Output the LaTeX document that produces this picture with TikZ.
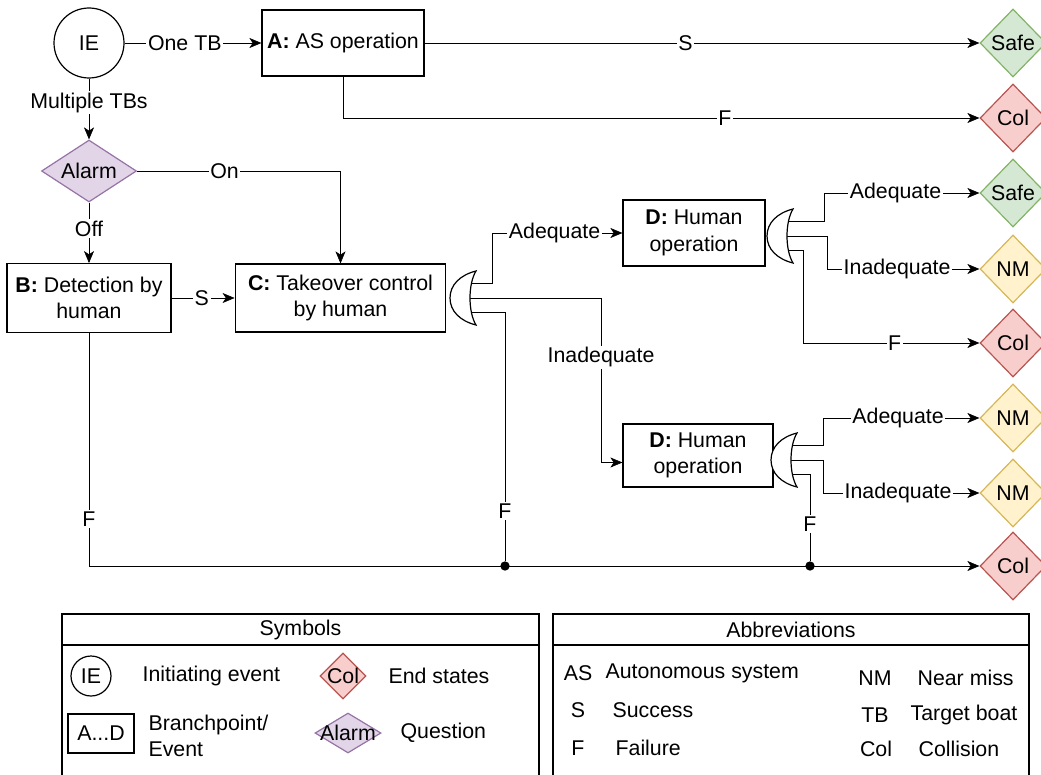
\documentclass[tikz,border=0pt]{standalone}
\usepackage{fontspec}
\setmainfont{Liberation Sans}
\usetikzlibrary{shapes.geometric,arrows.meta,calc,backgrounds}

\definecolor{safeFill}{HTML}{D5E8D4}\definecolor{safeLine}{HTML}{82B366}
\definecolor{colFill}{HTML}{F8CECC}\definecolor{colLine}{HTML}{B85450}
\definecolor{nmFill}{HTML}{FFF2CC}\definecolor{nmLine}{HTML}{D6B656}
\definecolor{askFill}{HTML}{E1D5E7}\definecolor{askLine}{HTML}{9673A6}

\tikzset{
  box/.style={draw, rectangle, align=center, inner sep=0pt},
  endst/.style={diamond, draw, aspect=1, inner sep=0pt, minimum width=49.5pt, minimum height=51pt},
  safe/.style={endst, fill=safeFill, draw=safeLine},
  colst/.style={endst, fill=colFill, draw=colLine},
  nmst/.style={endst, fill=nmFill, draw=nmLine},
  ask/.style={diamond, draw=askLine, fill=askFill, aspect=1.5, inner sep=0pt},
  lbl/.style={fill=white, inner sep=1.2pt},
  arr/.style={-{Stealth[length=9pt,width=7.5pt,inset=2.5pt]}},
  junction/.style={circle, fill, inner sep=0pt, minimum size=7pt},
  txt/.style={inner sep=0pt, anchor=west, align=left},
  ctxt/.style={inner sep=0pt},
  orgate/.pic={
    \coordinate (-o1) at (-10,-15);
    \coordinate (-o2) at (-10,0);
    \coordinate (-o3) at (-10,14);
    \path[draw, fill=white] (0,-27) .. controls (-16,-23) and (-26,-13) .. (-26,0)
      .. controls (-26,13) and (-16,23) .. (0,27)
      .. controls (-8,14) and (-8,-14) .. (0,-27) -- cycle;
  }
}

\begin{document}
\begin{tikzpicture}[x=0.75pt, y=-0.75pt, line width=0.9pt,
  font=\fontsize{16}{20}\selectfont]
\useasboundingbox (0,0) rectangle (1041,774);
\clip (0,0) rectangle (1041,774);

% events and branch points
\node[draw, circle, minimum size=52.5pt, inner sep=0pt] (ie) at (89,43) {IE};
\node[box, minimum width=121.5pt, minimum height=49.5pt] (A) at (343,43) {\textbf{A:} AS operation};
\node[ask, minimum width=71.25pt, minimum height=46.5pt] (alarm) at (89,171) {Alarm};
\node[box, minimum width=123pt, minimum height=51.5pt] (B) at (89,298) {\textbf{B:} Detection by\\human};
\node[box, minimum width=158pt, minimum height=51pt] (C) at (340.5,298) {\textbf{C:} Takeover control\\by human};
\node[box, minimum width=106.5pt, minimum height=49.5pt] (D1) at (694,233) {\textbf{D:} Human\\operation};
\node[box, minimum width=112.5pt, minimum height=47.25pt] (D2) at (698,455.5) {\textbf{D:} Human\\operation};

% OR gates
\pic (g1) at (476,298) {orgate};
\pic (g2) at (793,236) {orgate};
\pic (g3) at (797,460) {orgate};

% end states
\node[safe] (safe1) at (1013,43) {Safe};
\node[colst] (col1) at (1013,118) {Col};
\node[safe] (safe2) at (1013,193) {Safe};
\node[nmst] (nm1) at (1013,269) {NM};
\node[colst] (col2) at (1013,343) {Col};
\node[nmst] (nm2) at (1013,418) {NM};
\node[nmst] (nm3) at (1013,493) {NM};
\node[colst] (col3) at (1013,566) {Col};

% junctions on the failure line
\node[junction] (dot1) at (505,566) {};
\node[junction] (dot2) at (810,566) {};

% connectors
\begin{scope}[on background layer]
\draw[arr] (ie) -- node[lbl, pos=.44] {One TB} (A);
\draw[arr] (A) -- node[lbl, pos=.47] {S} (safe1);
\draw[arr] (A.south) |- node[lbl, pos=.8] {F} (col1);
\draw[arr] (ie) -- node[lbl, pos=.4] {Multiple TBs} (alarm);
\draw[arr] (alarm) -| node[lbl, pos=.215] {On} (C);
\draw[arr] (alarm) -- node[lbl, pos=.43] {Off} (B);
\draw[arr] (B) -- node[lbl, pos=.48] {S} (C);
\draw[arr] (g1-o1) -- ++(26,0) |- node[lbl, pos=.74] {Adequate} (D1);
\draw[arr] (g1-o2) -- ++(135,0) |- node[lbl, pos=.18] {Inadequate} ([yshift=-5.25pt]D2.west);
\draw (g1-o3) -| node[lbl, pos=.9] {F} (dot1);
\draw[arr] (B) |- node[lbl, pos=.4] {F} (col3);
\draw[arr] (g2-o1) -- ++(41,0) |- node[lbl, pos=.73] {Adequate} (safe2);
\draw[arr] (g2-o2) -- ++(44,0) |- node[lbl, pos=.73] {Inadequate} (nm1);
\draw[arr] (g2-o3) -- ++(20,0) |- node[lbl, pos=.76] {F} (col2);
\draw[arr] (g3-o1) -- ++(36,0) |- node[lbl, pos=.74] {Adequate} (nm2);
\draw[arr] (g3-o2) -- ++(36,0) |- node[lbl, pos=.74] {Inadequate} (nm3);
\draw (g3-o3) -| node[lbl, pos=.79] {F} (dot2);
\end{scope}

% legend: symbols
\draw (62,614) rectangle (539,790);
\draw (62,645) -- (539,645);
\node[ctxt] (symT) at (300.5,630) {Symbols};
\node[draw, circle, minimum size=30pt, inner sep=0pt] (legIE) at (91,676) {IE};
\node[txt] (legIEt) at (142,676) {Initiating event};
\node[colst, minimum width=34.5pt, minimum height=34.5pt, label=center:Col] (legCol) at (343,676) {};
\node[txt] (legColt) at (388,676) {End states};
\node[box, minimum width=49.5pt, minimum height=29.25pt] (legBox) at (101,733.5) {A...D};
\node[txt] (legBoxt) at (148,736) {Branchpoint/\\Event};
\node[ask, minimum width=49.5pt, minimum height=30pt, label=center:Alarm] (legAsk) at (348,733) {};
\node[txt] (legAskt) at (400,733) {Question};

% legend: abbreviations
\draw (553,614) rectangle (1029,790);
\draw (553,645) -- (1029,645);
\node[ctxt] (abbT) at (791,630) {Abbreviations};
\node[ctxt] (abAS) at (578,673) {AS};
\node[txt] (abASt) at (605,673) {Autonomous system};
\node[ctxt] (abS) at (578,710) {S};
\node[txt] (abSt) at (612,710) {Success};
\node[ctxt] (abF) at (578,748) {F};
\node[txt] (abFt) at (615,748) {Failure};
\node[ctxt] (abNM) at (875,678) {NM};
\node[txt] (abNMt) at (917,678) {Near miss};
\node[ctxt] (abTB) at (875,715) {TB};
\node[txt] (abTBt) at (910,715) {Target boat};
\node[ctxt] (abCol) at (876,749) {Col};
\node[txt] (abColt) at (918,749) {Collision};
\end{tikzpicture}
\end{document}
